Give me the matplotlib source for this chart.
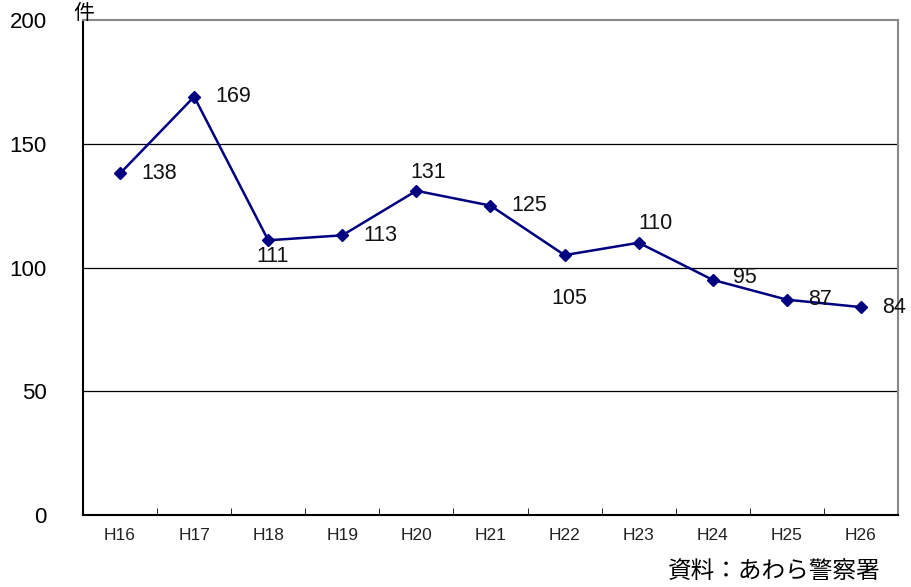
import matplotlib.pyplot as plt

plt.rcParams['font.family'] = ['Liberation Sans', 'Noto Sans CJK JP', 'DejaVu Sans']

years = ["H16", "H17", "H18", "H19", "H20", "H21", "H22", "H23", "H24", "H25", "H26"]
counts = [138, 169, 111, 113, 131, 125, 105, 110, 95, 87, 84]
# label offsets in pixels (dx, dy, ha)
offsets = [(21, 0, 'left'), (21, 0, 'left'), (4, -16, 'center'), (21, 0, 'left'),
           (12, 18, 'center'), (21, 0, 'left'), (5, -43, 'center'), (17, 19, 'center'),
           (20, 2, 'left'), (21, 0, 'left'), (21, 0, 'left')]

fig = plt.figure(figsize=(9.12, 5.87), dpi=100)
ax = fig.add_axes([83 / 912, 72 / 587, 815 / 912, 495 / 587])

x = list(range(len(years)))
ax.plot(x, counts, color='#000080', lw=1.8, marker='D', ms=6.5, zorder=3)

for xi, v, (dx, dy, ha) in zip(x, counts, offsets):
    ax.annotate(str(v), (xi, v), xytext=(dx * 0.72, dy * 0.72), textcoords='offset points',
                ha=ha, va='center', fontsize=15.5, color='#111111')

ax.set_xlim(-0.5, len(years) - 0.5)
ax.set_ylim(0, 200)
ax.set_yticks([0, 50, 100, 150, 200])
ax.set_yticklabels(['0', '50', '100', '150', '200'], fontsize=16)
ax.set_xticks(x)
ax.set_xticklabels(years, fontsize=12.5, color='#222222')
ax.tick_params(axis='y', length=0, pad=26)
ax.tick_params(axis='x', length=0, pad=9)
ax.set_xticks([i + 0.5 for i in range(len(years) - 1)], minor=True)
ax.tick_params(axis='x', which='minor', direction='in', length=5, color='black')

for yv in [50, 100, 150]:
    ax.axhline(yv, color='black', lw=0.9, zorder=1)

ax.spines['left'].set_color('black')
ax.spines['bottom'].set_color('black')
ax.spines['top'].set_color('#888888')
ax.spines['right'].set_color('#888888')
for s in ax.spines.values():
    s.set_linewidth(1.5)

fig.text(84 / 912, 1 - 13 / 587, '件', fontsize=15, family='Noto Sans CJK JP',
         ha='center', va='center')
fig.text(881 / 912, 1 - 572 / 587, '資料：あわら警察署', fontsize=17,
         family='Noto Sans CJK JP', ha='right', va='center')

fig.savefig('out.png', dpi=100)
